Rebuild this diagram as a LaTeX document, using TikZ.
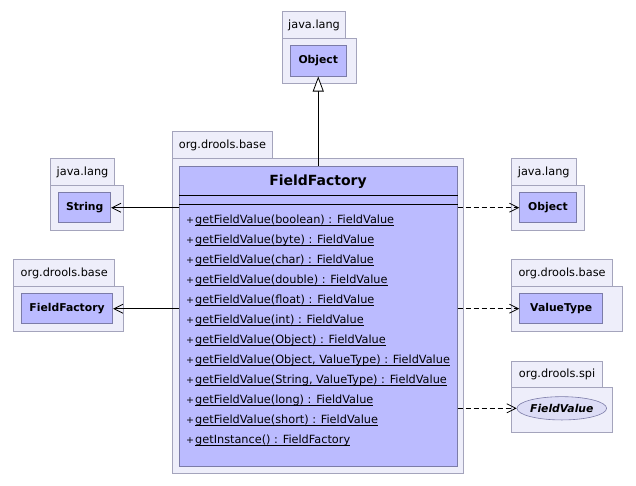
\documentclass[tikz,border=0pt]{standalone}
\usepackage{fontspec}
\setmainfont{DejaVu Sans}
\usetikzlibrary{arrows.meta,shapes.geometric}
\definecolor{pkgfill}{HTML}{EEEEFA}
\definecolor{pkgline}{HTML}{A4A4BC}
\definecolor{clsfill}{HTML}{BBBBFF}
\definecolor{clsline}{HTML}{7C7CA8}
\definecolor{ellfill}{HTML}{DDDDF6}
\newcommand{\umeth}[1]{\setbox0\hbox{#1}\rlap{\rule[-1.7pt]{\wd0}{0.6pt}}\box0}
\newcommand{\vplus}{\makebox[9pt][l]{\fontsize{9.5}{10}\selectfont+}}
\begin{document}
\begin{tikzpicture}[x=1pt,y=-1pt]
            \tikzstyle{pkgtab}=[draw=pkgline, fill=pkgfill, anchor=north west, inner sep=0pt, line width=0.8pt, font=\fontsize{11.3}{13}\selectfont]
            \tikzstyle{pkgbody}=[draw=pkgline, fill=pkgfill, anchor=north west, inner sep=0pt, line width=0.8pt]
            \tikzstyle{cls}=[draw=clsline, fill=clsfill, anchor=north west, inner sep=0pt, line width=0.8pt, font=\fontsize{10.8}{13}\selectfont\bfseries]
            \tikzstyle{method}=[anchor=base west, inner sep=0pt, font=\fontsize{11.3}{13}\selectfont]
            \tikzstyle{assoc}=[line width=0.8pt, -{Straight Barb[length=9pt,width=9pt]}]
            \tikzstyle{dep}=[assoc, dash pattern=on 5pt off 3pt]
            \tikzstyle{inherit}=[line width=0.8pt, -{Triangle[open,length=15pt,width=11pt,fill=white]}]
            \useasboundingbox[fill=white] (0,0) rectangle (636,485);
            % java.lang (top)
            \node[pkgtab, minimum width=62.7pt, minimum height=27pt] (objtab) at (282.3,11) {java.lang};
            \node[pkgbody, minimum width=73.4pt, minimum height=45pt] (objbody) at (282.3,38) {};
            \node[cls, minimum width=55.7pt, minimum height=30.7pt] (objtop) at (290,45) {Object};
            % org.drools.base (main)
            \node[pkgtab, minimum width=100.6pt, minimum height=27.3pt] (maintab) at (171.7,131) {org.drools.base};
            \node[pkgbody, minimum width=291.6pt, minimum height=315pt] (mainbody) at (171.7,158.3) {};
            \node[cls, minimum width=277.4pt, minimum height=300pt] (ff) at (179.3,165.7) {};
            \node[font=\fontsize{14}{16}\selectfont\bfseries] (fftitle) at (318,181.7) {FieldFactory};
            \draw[line width=0.8pt] (ff.west |- 0,195) -- (ff.east |- 0,195);
            \draw[line width=0.8pt] (ff.west |- 0,204) -- (ff.east |- 0,204);
            \foreach \m [count=\i from 0] in {boolean, byte, char, double, float, int, Object, {Object, ValueType}, {String, ValueType}, long, short}
                \node[method] (m\i) at (186,223.5+20*\i) {\vplus\umeth{getFieldValue(\m) : FieldValue}};
            \node[method] (m11) at (186,443.5) {\vplus\umeth{getInstance() : FieldFactory}};
            % java.lang (left)
            \node[pkgtab, minimum width=64.3pt, minimum height=26.7pt] (strtab) at (50,158.3) {java.lang};
            \node[pkgbody, minimum width=73.3pt, minimum height=45pt] (strbody) at (50,185) {};
            \node[cls, minimum width=52pt, minimum height=30pt] (str) at (58.3,192.3) {String};
            % org.drools.base (left)
            \node[pkgtab, minimum width=101pt, minimum height=26.7pt] (ffltab) at (13.3,259.3) {org.drools.base};
            \node[pkgbody, minimum width=110pt, minimum height=45pt] (fflbody) at (13.3,286) {};
            \node[cls, minimum width=91.3pt, minimum height=30pt] (ffl) at (21,293.3) {FieldFactory};
            % java.lang (right)
            \node[pkgtab, minimum width=64.7pt, minimum height=26.7pt] (objrtab) at (511,158.3) {java.lang};
            \node[pkgbody, minimum width=73.3pt, minimum height=45pt] (objrbody) at (511,185) {};
            \node[cls, minimum width=56.4pt, minimum height=30pt] (objr) at (519.3,192.3) {Object};
            % org.drools.base (right)
            \node[pkgtab, minimum width=101.3pt, minimum height=26.7pt] (vttab) at (511,259.3) {org.drools.base};
            \node[pkgbody, minimum width=111.3pt, minimum height=45pt] (vtbody) at (511,286) {};
            \node[cls, minimum width=83pt, minimum height=30pt] (vt) at (519.3,293.3) {ValueType};
            % org.drools.spi
            \node[pkgtab, minimum width=91.3pt, minimum height=26.6pt] (spitab) at (511,360.7) {org.drools.spi};
            \node[pkgbody, minimum width=101.3pt, minimum height=44.4pt] (spibody) at (511,387.3) {};
            \node[ellipse, draw=clsline, fill=ellfill, line width=0.6pt, inner sep=0pt, minimum width=85pt, minimum height=23.3pt, font=\fontsize{10.8}{13}\selectfont\bfseries\itshape] (fv) at (561.8,408.3) {FieldValue};
            % connectors
            \draw[inherit] (ff.north -| objtop.south) -- (objtop.south);
            \draw[assoc] (ff.west |- str.east) -- (str.east);
            \draw[assoc] (ff.west |- ffl.east) -- (ffl.east);
            \draw[dep] (ff.east |- objr.west) -- (objr.west);
            \draw[dep] (ff.east |- vt.west) -- (vt.west);
            \draw[dep] (ff.east |- fv.west) -- (fv.west);
\end{tikzpicture}
\end{document}
